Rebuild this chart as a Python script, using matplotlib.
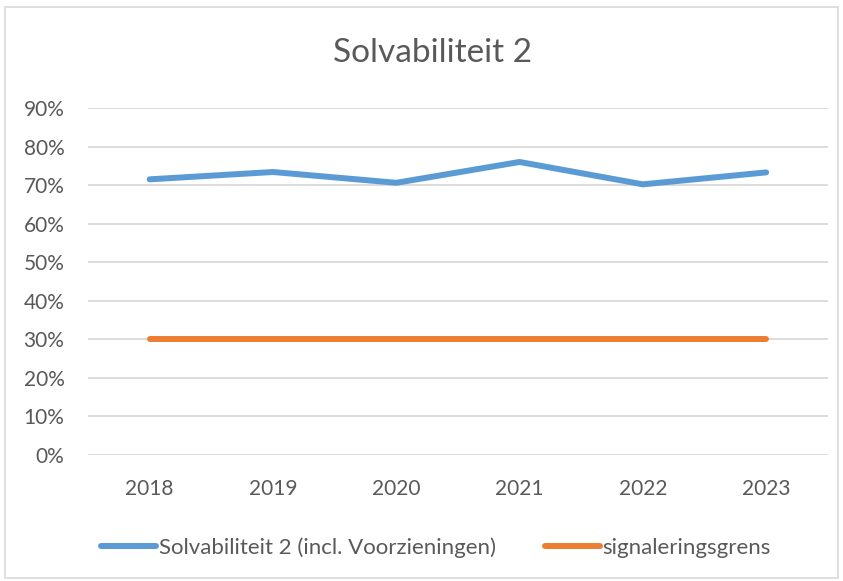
import matplotlib.pyplot as plt
from matplotlib.ticker import PercentFormatter

# chart data
years = ['2018', '2019', '2020', '2021', '2022', '2023']
solvabiliteit = [71.5, 73.4, 70.6, 76.0, 70.2, 73.3]
signaleringsgrens = [30, 30, 30, 30, 30, 30]

plt.rcParams['font.family'] = ['Lato', 'DejaVu Sans']

fig = plt.figure(figsize=(8.43, 5.81), dpi=100)
ax = fig.add_axes([0.1044, 0.2169, 0.8776, 0.5972])

x = range(len(years))
ax.plot(x, solvabiliteit, color='#5b9bd5', linewidth=4.3,
        solid_capstyle='round', solid_joinstyle='round',
        label='Solvabiliteit 2 (incl. Voorzieningen)')
ax.plot(x, signaleringsgrens, color='#ed7d31', linewidth=4.3,
        solid_capstyle='round', label='signaleringsgrens')

ax.set_xlim(-0.5, len(years) - 0.5)
ax.set_ylim(0, 90)
ax.set_yticks(range(0, 91, 10))
ax.yaxis.set_major_formatter(PercentFormatter(decimals=0))
ax.set_xticks(list(x))
ax.set_xticklabels(years)
ax.grid(axis='y', color='#d9d9d9', linewidth=1.3)
ax.set_axisbelow(True)
for s in ax.spines.values():
    s.set_visible(False)
ax.tick_params(length=0, labelsize=15, colors='#595959')
ax.tick_params(axis='y', pad=17)
ax.tick_params(axis='x', pad=17)

fig.text(0.513, 0.908, 'Solvabiliteit 2', ha='center', va='center',
         fontsize=24, color='#595959')

leg = fig.legend(loc='center', bbox_to_anchor=(0.517, 0.058), ncol=2,
                 frameon=False, fontsize=16, handlelength=2.5,
                 handletextpad=0.1, columnspacing=2.2)
for t in leg.get_texts():
    t.set_color('#595959')

# outer chart frame
fig.add_artist(plt.Rectangle((0.006, 0.005), 0.988, 0.983, fill=False,
                             edgecolor='#d9d9d9', linewidth=1.2,
                             transform=fig.transFigure))

fig.savefig('out.png', dpi=100)
